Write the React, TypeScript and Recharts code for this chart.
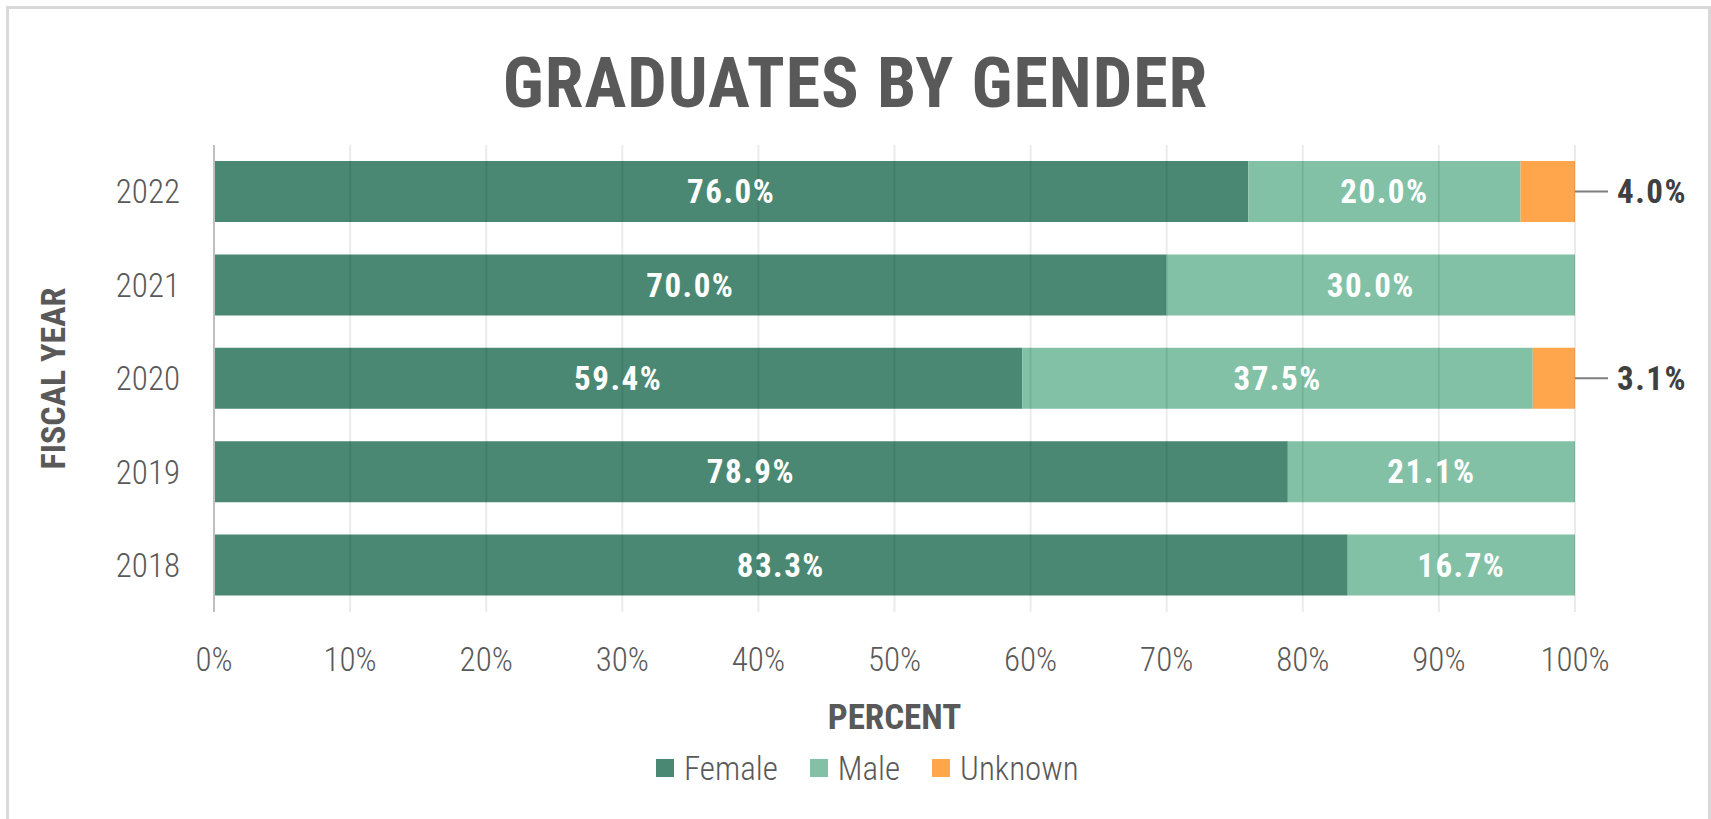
import { BarChart, Bar, XAxis, YAxis, LabelList, ReferenceLine, Label } from "recharts";

const years = ["2022", "2021", "2020", "2019", "2018"];
const female = [76.0, 70.0, 59.4, 78.9, 83.3];
const male = [20.0, 30.0, 37.5, 21.1, 16.7];
const unknown = [4.0, 0, 3.1, 0, 0];
const percentTicks = [0, 10, 20, 30, 40, 50, 60, 70, 80, 90, 100];

const seriesKeys = ["female", "male", "unknown"];
const seriesNames = ["Female", "Male", "Unknown"];
const seriesColors = ["#4a8873", "#82c1a6", "#ffa54c"];

const data = years.map((year, i) => ({
  year,
  female: female[i],
  male: male[i],
  unknown: unknown[i],
}));

const FONT = "'Roboto Condensed', 'Liberation Sans Narrow', 'DejaVu Sans Condensed', Roboto, sans-serif";
const GREY = "#595959";

const pct = (v: any) => `${Number(v).toFixed(1)}%`;

// small values sit outside the bar with a leader line
function OutsideLabel(props: any) {
  const vb = props.viewBox || props;
  const { value } = props;
  if (!value) return null;
  const x0 = Number(vb.x) + Number(vb.width);
  const cy = Number(vb.y) + Number(vb.height) / 2;
  return (
    <g>
      <line x1={x0} y1={cy} x2={x0 + 33} y2={cy} stroke="#7f7f7f" strokeWidth={2} />
      <text x={x0 + 42} y={cy} dy="0.35em" fill="#404040" fontSize={33} fontWeight={700}
        letterSpacing={1.5} fontFamily={FONT}>
        {pct(value)}
      </text>
    </g>
  );
}

function YTitle(props: any) {
  const vb = props.viewBox || {};
  const cx = vb.x + 53;
  const cy = vb.y + vb.height / 2;
  return (
    <text x={cx} y={cy} transform={`rotate(-90 ${cx} ${cy})`} textAnchor="middle" dy="0.35em"
      fill={GREY} fontSize={34} fontWeight={700} fontFamily={FONT}>
      FISCAL YEAR
    </text>
  );
}

function XTitle(props: any) {
  const vb = props.viewBox || {};
  const cx = vb.x + vb.width / 2;
  const cy = vb.y + 105;
  return (
    <text x={cx} y={cy} textAnchor="middle" dy="0.35em" fill={GREY} fontSize={35} fontWeight={700} fontFamily={FONT}>
      PERCENT
    </text>
  );
}

export default function App() {
  return (
    <div style={{ position: "relative", width: 1711, height: 819, overflow: "hidden", fontFamily: FONT, background: "#fff" }}>
      <style>{`body{margin:0;overflow:hidden}`}</style>
      <div style={{ position: "absolute", left: 6, top: 6, width: 1705, height: 830, border: "3px solid #d9d9d9", boxSizing: "border-box" }} />

      <div style={{ position: "absolute", left: 0, top: 48, width: 1711, textAlign: "center", fontSize: 70, lineHeight: 1, fontWeight: 700, color: GREY, letterSpacing: 1 }}>
        GRADUATES BY GENDER
      </div>

      <div style={{ position: "absolute", left: 0, top: 0 }}>
        <BarChart width={1711} height={819} data={data} layout="vertical"
          margin={{ top: 145, right: 136, bottom: 107, left: 0 }} style={{ fontFamily: FONT }}>
          <XAxis type="number" domain={[0, 100]} ticks={percentTicks} tickFormatter={(v) => `${v}%`}
            axisLine={false} tickLine={false} tickSize={0} tickMargin={36} height={100}
            tick={{ fill: GREY, fontSize: 33, fontWeight: 300, fontFamily: FONT }}>
            <Label content={XTitle} />
          </XAxis>
          <YAxis type="category" dataKey="year" width={214} tickLine={false} tickSize={0} tickMargin={34}
            axisLine={{ stroke: "#bfbfbf", strokeWidth: 2 }}
            tick={{ fill: GREY, fontSize: 33, fontWeight: 300, fontFamily: FONT }}>
            <Label content={YTitle} />
          </YAxis>
          <Bar dataKey={seriesKeys[0]} name={seriesNames[0]} stackId="a" fill={seriesColors[0]} barSize={61} isAnimationActive={false}>
            <LabelList dataKey={seriesKeys[0]} position="center" formatter={pct} fill="#fff" fontSize={33}
              fontWeight={700} letterSpacing={1.5} fontFamily={FONT} />
          </Bar>
          <Bar dataKey={seriesKeys[1]} name={seriesNames[1]} stackId="a" fill={seriesColors[1]} barSize={61} isAnimationActive={false}>
            <LabelList dataKey={seriesKeys[1]} position="center" formatter={pct} fill="#fff" fontSize={33}
              fontWeight={700} letterSpacing={1.5} fontFamily={FONT} />
          </Bar>
          <Bar dataKey={seriesKeys[2]} name={seriesNames[2]} stackId="a" fill={seriesColors[2]} barSize={61} isAnimationActive={false}>
            <LabelList dataKey={seriesKeys[2]} content={OutsideLabel} />
          </Bar>
          {percentTicks.map((t) => (
            <ReferenceLine key={t} x={t} stroke="rgba(0,0,0,0.08)" strokeWidth={2} />
          ))}
        </BarChart>
      </div>

      <div style={{ position: "absolute", left: 656, top: 750, display: "flex", alignItems: "center", height: 36, color: GREY, fontSize: 33, fontWeight: 300 }}>
        {seriesNames.map((n, i) => (
          <div key={n} style={{ display: "flex", alignItems: "center", marginRight: 32 }}>
            <span style={{ width: 18, height: 18, background: seriesColors[i], display: "inline-block", marginRight: 10 }} />
            <span>{n}</span>
          </div>
        ))}
      </div>
    </div>
  );
}
